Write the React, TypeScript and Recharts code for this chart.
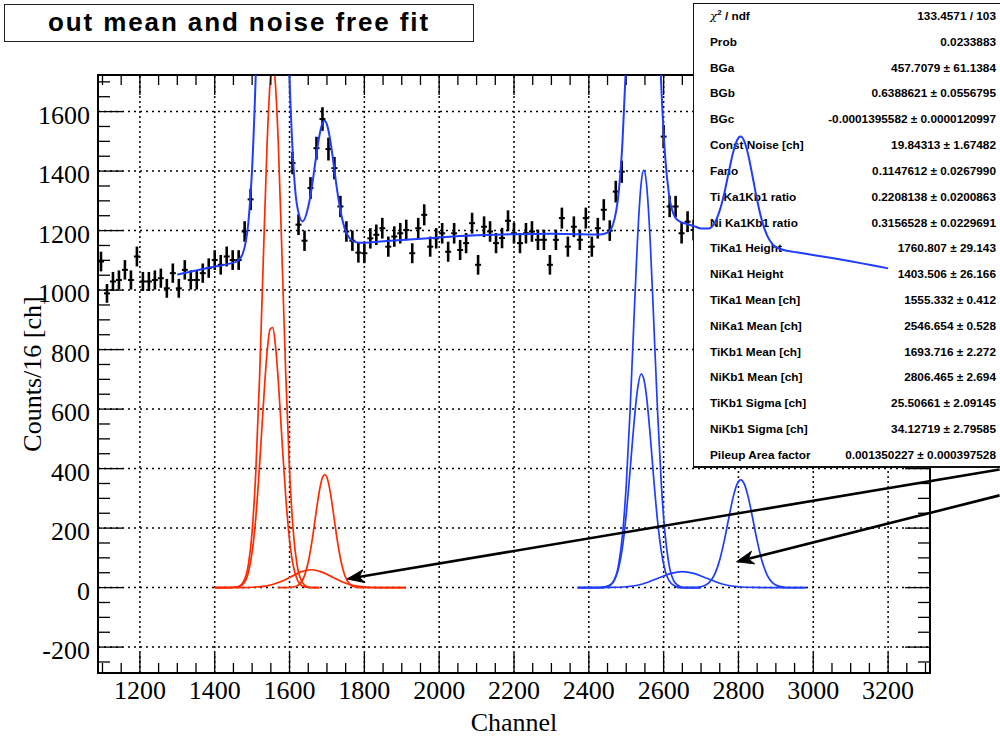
import React from 'react';
import {
  ComposedChart, LineChart, Line, Scatter, ErrorBar, XAxis, YAxis, ReferenceLine,
} from 'recharts';

/* ─────── layout ─────── */
const W = 1000;
const H = 737;
const PLOT = { left: 98, top: 75, right: 930, bottom: 673 };
const MARGIN = { top: PLOT.top, right: W - PLOT.right, bottom: H - PLOT.bottom, left: PLOT.left };
const AXIS_MARGIN = { top: PLOT.top, right: W - PLOT.right, bottom: 0, left: 0 };
const X_DOMAIN: [number, number] = [1088, 3312];
const Y_DOMAIN: [number, number] = [-287, 1723];
const RED = '#ff2a00';
const BLUE = '#1f3dff';
const SERIF = '"Liberation Serif", "Times New Roman", serif';
const SANS = '"Liberation Sans", Arial, Helvetica, sans-serif';

/* ─────── ticks ─────── */
const xMajor = [1200, 1400, 1600, 1800, 2000, 2200, 2400, 2600, 2800, 3000, 3200];
const yMajor = [-200, 0, 200, 400, 600, 800, 1000, 1200, 1400, 1600];
const xMinor = Array.from({ length: 45 }, (_, i) => 1100 + 50 * i);
const yMinor = Array.from({ length: 40 }, (_, i) => -250 + 50 * i);

/* ─────── histogram (bin centres, counts/16 ch) ─────── */
const channels = [
  1096, 1112, 1128, 1144, 1160, 1176, 1192, 1208, 1224, 1240,
  1256, 1272, 1288, 1304, 1320, 1336, 1352, 1368, 1384, 1400,
  1416, 1432, 1448, 1464, 1480, 1496, 1512, 1528, 1544, 1560,
  1576, 1592, 1608, 1624, 1640, 1656, 1672, 1688, 1704, 1720,
  1736, 1752, 1768, 1784, 1800, 1816, 1832, 1848, 1864, 1880,
  1896, 1912, 1928, 1944, 1960, 1976, 1992, 2008, 2024, 2040,
  2056, 2072, 2088, 2104, 2120, 2136, 2152, 2168, 2184, 2200,
  2216, 2232, 2248, 2264, 2280, 2296, 2312, 2328, 2344, 2360,
  2376, 2392, 2408, 2424, 2440, 2456, 2472, 2488, 2504, 2520,
  2536, 2552, 2568, 2584, 2600, 2616, 2632, 2648, 2664, 2680,
];
const counts = [
  1096, 989, 1029, 1034, 1068, 1034, 1113, 1029, 1029, 1034,
  1040, 1006, 1057, 1006, 1068, 1034, 1034, 1057, 1074, 1101,
  1085, 1113, 1101, 1101, 1197, 1305, 1830, 2700, 3520, 3700,
  3020, 2080, 1427, 1220, 1166, 1343, 1477, 1575, 1474, 1410,
  1281, 1197, 1166, 1126, 1124, 1174, 1186, 1208, 1146, 1180,
  1191, 1202, 1124, 1208, 1253, 1146, 1174, 1191, 1129, 1191,
  1135, 1158, 1225, 1085, 1213, 1197, 1158, 1175, 1233, 1191,
  1158, 1191, 1197, 1169, 1169, 1085, 1169, 1242, 1146, 1213,
  1169, 1242, 1146, 1208, 1270, 1200, 1331, 1398, 1880, 2580,
  3180, 3240, 2700, 2000, 1516, 1281, 1281, 1191, 1230, 1202,
];

/* ─────── fit components [channel, counts] ─────── */
const tiKa1 = [
  [1400, 0], [1430, 0], [1460, 2], [1475, 16], [1490, 77], [1500, 188], [1510, 394], [1520, 711],
  [1530, 1109], [1540, 1491], [1548, 1697], [1555, 1760], [1562, 1697], [1570, 1491], [1580, 1109],
  [1590, 711], [1600, 394], [1610, 188], [1620, 77], [1635, 16], [1650, 2], [1665, 0], [1680, 0],
];
const tiKa2 = [
  [1400, 0], [1430, 0], [1460, 2], [1475, 11], [1490, 51], [1500, 119], [1510, 238], [1520, 413],
  [1530, 615], [1540, 791], [1548, 869], [1555, 874], [1562, 818], [1570, 693], [1580, 493],
  [1590, 303], [1600, 160], [1610, 73], [1620, 29], [1635, 5], [1650, 1], [1665, 0], [1680, 0],
];
const tiKb1 = [
  [1568, 0], [1590, 0], [1610, 2], [1625, 10], [1640, 40], [1650, 86], [1660, 156], [1670, 244],
  [1680, 327], [1688, 370], [1694, 380], [1700, 370], [1708, 327], [1718, 244], [1728, 156],
  [1738, 86], [1748, 40], [1760, 13], [1775, 2], [1790, 0], [1820, 0], [1860, 0], [1910, 0],
];
const tiTail = [
  [1400, 0], [1440, 0], [1480, 0], [1510, 2], [1540, 6], [1570, 17], [1600, 34], [1630, 53],
  [1658, 60], [1685, 53], [1715, 35], [1745, 17], [1775, 6], [1805, 2], [1840, 0], [1880, 0], [1910, 0],
];
const niKa1 = [
  [2370, 0], [2400, 0], [2430, 0], [2450, 4], [2465, 19], [2480, 80], [2490, 177], [2500, 343],
  [2510, 586], [2520, 881], [2530, 1167], [2540, 1360], [2547, 1403], [2554, 1360], [2564, 1167],
  [2574, 881], [2584, 586], [2594, 343], [2604, 177], [2614, 80], [2630, 17], [2645, 3], [2660, 0],
  [2690, 0], [2700, 0],
];
const niKa2 = [
  [2370, 0], [2400, 0], [2430, 0], [2450, 4], [2465, 18], [2480, 67], [2490, 136], [2500, 246],
  [2510, 389], [2520, 542], [2530, 665], [2540, 718], [2547, 701], [2554, 645], [2564, 513],
  [2574, 358], [2584, 221], [2594, 120], [2604, 57], [2614, 24], [2630, 5], [2645, 1], [2660, 0],
  [2690, 0], [2700, 0],
];
const niKb1 = [
  [2636, 0], [2660, 0], [2680, 0], [2700, 3], [2720, 15], [2735, 41], [2750, 94], [2762, 157],
  [2774, 233], [2786, 305], [2796, 347], [2806, 362], [2816, 347], [2826, 305], [2838, 233],
  [2850, 157], [2862, 94], [2877, 41], [2892, 15], [2910, 4], [2930, 0], [2955, 0], [2980, 0],
];
const niTail = [
  [2370, 0], [2420, 0], [2460, 0.5], [2500, 3], [2530, 8], [2560, 19], [2590, 34], [2620, 48],
  [2650, 54], [2680, 48], [2710, 34], [2740, 19], [2770, 8], [2800, 3], [2840, 0.5], [2880, 0],
  [2930, 0], [2980, 0],
];
const totalFit = [
  [1300, 1052], [1350, 1066], [1400, 1079], [1440, 1089], [1460, 1097], [1475, 1123], [1490, 1228],
  [1500, 1410], [1510, 1738], [1520, 2233], [1530, 2836], [1540, 3398], [1548, 3686], [1555, 3757],
  [1562, 3642], [1570, 3317], [1580, 2742], [1590, 2162], [1600, 1711], [1610, 1428], [1620, 1285],
  [1635, 1231], [1650, 1280], [1660, 1350], [1670, 1439], [1680, 1520], [1688, 1561], [1694, 1569],
  [1700, 1556], [1708, 1510], [1718, 1422], [1728, 1329], [1738, 1255], [1748, 1205], [1760, 1175],
  [1775, 1162], [1790, 1159], [1820, 1161], [1860, 1165], [1910, 1169], [2000, 1177], [2100, 1184],
  [2200, 1188], [2300, 1189], [2370, 1188], [2400, 1187], [2430, 1187], [2450, 1193], [2465, 1222],
  [2480, 1332], [2490, 1498], [2500, 1775], [2510, 2161], [2520, 2610], [2530, 3021], [2540, 3269],
  [2547, 3298], [2554, 3200], [2564, 2879], [2574, 2442], [2584, 2014], [2594, 1675], [2604, 1450],
  [2614, 1324], [2630, 1246], [2645, 1229], [2660, 1223], [2680, 1216], [2700, 1207], [2720, 1207],
  [2735, 1223], [2750, 1268], [2762, 1325], [2774, 1396], [2786, 1464], [2796, 1503], [2806, 1516],
  [2816, 1499], [2826, 1455], [2838, 1380], [2850, 1302], [2862, 1237], [2877, 1182], [2892, 1153],
  [2910, 1139], [2930, 1132], [2955, 1127], [2980, 1122], [3050, 1108], [3100, 1097], [3150, 1085],
  [3200, 1073],
];

/* ─────── annotation arrows (start -> tip, data coords) ─────── */
const arrows = [
  [{ x: 3498, y: 397 }, { x: 1754, y: 29 }],
  [{ x: 3498, y: 310 }, { x: 2795, y: 87 }],
];

/* ─────── stats box ─────── */
const statLabels = [
  'χ2 / ndf', 'Prob', 'BGa', 'BGb', 'BGc', 'Const Noise [ch]', 'Fano', 'Ti Ka1Kb1 ratio',
  'Ni Ka1Kb1 ratio', 'TiKa1 Height', 'NiKa1 Height', 'TiKa1 Mean [ch]', 'NiKa1 Mean [ch]',
  'TiKb1 Mean [ch]', 'NiKb1 Mean [ch]', 'TiKb1 Sigma [ch]', 'NiKb1 Sigma [ch]', 'Pileup Area factor',
];
const statValues = [
  '133.4571 / 103', '0.0233883', '457.7079 ± 61.1384', '0.6388621 ± 0.0556795',
  '-0.0001395582 ± 0.0000120997', '19.84313 ± 1.67482', '0.1147612 ± 0.0267990',
  '0.2208138 ± 0.0200863', '0.3156528 ± 0.0229691', '1760.807 ± 29.143', '1403.506 ± 26.166',
  '1555.332 ± 0.412', '2546.654 ± 0.528', '1693.716 ± 2.272', '2806.465 ± 2.694',
  '25.50661 ± 2.09145', '34.12719 ± 2.79585', '0.001350227 ± 0.000397528',
];

const pts = (a: number[][]) => a.map(([x, y]) => ({ x, y }));
// Poisson errors on the counts, half a bin horizontally
const histPoints = channels.map((c, i) => ({ x: c, y: counts[i], ey: Math.sqrt(counts[i]), ex: 8 }));

function XTick(props: any) {
  const { x, y, payload } = props;
  const v = payload.value;
  const major = v % 200 === 0;
  const len = major ? 20 : 10;
  return (
    <g>
      <line x1={x} x2={x} y1={y} y2={y - len} stroke="#000" strokeWidth={1.3} />
      <line x1={x} x2={x} y1={PLOT.top} y2={PLOT.top + len} stroke="#000" strokeWidth={1.3} />
      {major && (
        <text x={x} y={y + 26} textAnchor="middle" fontFamily={SERIF} fontSize={26} fill="#000">{v}</text>
      )}
    </g>
  );
}

function YTick(props: any) {
  const { x, y, payload } = props;
  const v = payload.value;
  const major = v % 200 === 0;
  const len = major ? 25 : 12;
  return (
    <g>
      <line x1={x} x2={x + len} y1={y} y2={y} stroke="#000" strokeWidth={1.3} />
      <line x1={PLOT.right} x2={PLOT.right - len} y1={y} y2={y} stroke="#000" strokeWidth={1.3} />
      {major && (
        <text x={x - 8} y={y + 12} textAnchor="end" fontFamily={SERIF} fontSize={26} fill="#000">{v}</text>
      )}
    </g>
  );
}

function ArrowShape(props: any) {
  const { x1, y1, x2, y2 } = props;
  const dx = x2 - x1;
  const dy = y2 - y1;
  const len = Math.hypot(dx, dy) || 1;
  const ux = dx / len;
  const uy = dy / len;
  const nx = -uy;
  const ny = ux;
  const bx = x2 - ux * 17;
  const by = y2 - uy * 17;
  const head = [
    [x2, y2], [bx + nx * 6.5, by + ny * 6.5], [x2 - ux * 12, y2 - uy * 12], [bx - nx * 6.5, by - ny * 6.5],
  ].map((p) => p.join(',')).join(' ');
  return (
    <g>
      <line x1={x1} y1={y1} x2={x2 - ux * 10} y2={y2 - uy * 10} stroke="#000" strokeWidth={2.6} />
      <polygon points={head} fill="#000" stroke="#000" strokeWidth={1} strokeLinejoin="miter" />
    </g>
  );
}

const xLabel = (p: any) => {
  const vb = p.viewBox;
  return (
    <text x={vb.x + vb.width / 2} y={PLOT.bottom + 58} textAnchor="middle" fontFamily={SERIF} fontSize={26} fill="#000">
      Channel
    </text>
  );
};

const yLabel = (p: any) => {
  const vb = p.viewBox;
  const cx = PLOT.left - 57;
  const cy = vb.y + vb.height / 2;
  return (
    <text x={cx} y={cy} transform={`rotate(-90 ${cx} ${cy})`} textAnchor="middle" fontFamily={SERIF} fontSize={26} fill="#000">
      Counts/16 [ch]
    </text>
  );
};

const comp = (data: number[][], color: string, key: string) => (
  <Line
    key={key} data={pts(data)} dataKey="y" type="monotone" stroke={color} strokeWidth={1.7}
    dot={false} activeDot={false} isAnimationActive={false} legendType="none"
  />
);

function StatLabel({ text }: { text: string }) {
  if (text.startsWith('χ2')) {
    return (
      <span>
        <span style={{ fontWeight: 400, fontFamily: '"DejaVu Serif", serif', fontStyle: 'italic' }}>χ</span>
        <span style={{ fontSize: 8, position: 'relative', top: -5 }}>2</span>
        {text.slice(2)}
      </span>
    );
  }
  return <span>{text}</span>;
}

export default function App() {
  const layer: React.CSSProperties = { position: 'absolute', left: 0, top: 0 };
  return (
    <div style={{ position: 'absolute', left: 0, top: 0, width: W, height: H, background: '#fff', overflow: 'hidden' }}>
      {/* base layer: axes, grid, fit components, arrows */}
      <div style={layer}>
        <ComposedChart width={W} height={H} margin={AXIS_MARGIN}>
          <XAxis
            type="number" dataKey="x" domain={X_DOMAIN} allowDataOverflow ticks={xMinor} interval={0}
            height={H - PLOT.bottom} tickSize={0} tickMargin={0} axisLine={false} tickLine={false}
            tick={(p: any) => <XTick {...p} />} label={xLabel}
          />
          <YAxis
            type="number" domain={Y_DOMAIN} allowDataOverflow ticks={yMinor} interval={0}
            width={PLOT.left} tickSize={0} tickMargin={0} axisLine={false} tickLine={false}
            tick={(p: any) => <YTick {...p} />} label={yLabel}
          />
          {xMajor.map((v) => (
            <ReferenceLine key={`gx${v}`} x={v} stroke="#000" strokeWidth={1.5} strokeDasharray="2 3" />
          ))}
          {yMajor.map((v) => (
            <ReferenceLine key={`gy${v}`} y={v} stroke="#000" strokeWidth={1.5} strokeDasharray="2 4" />
          ))}
          {comp(tiKa1, RED, 'tiKa1')}
          {comp(tiKa2, RED, 'tiKa2')}
          {comp(tiKb1, RED, 'tiKb1')}
          {comp(tiTail, RED, 'tiTail')}
          {comp(niKa1, BLUE, 'niKa1')}
          {comp(niKa2, BLUE, 'niKa2')}
          {comp(niKb1, BLUE, 'niKb1')}
          {comp(niTail, BLUE, 'niTail')}
          {arrows.map((seg, i) => (
            <ReferenceLine key={`ar${i}`} segment={seg} ifOverflow="visible" shape={(p: any) => <ArrowShape {...p} />} />
          ))}
        </ComposedChart>
      </div>

      {/* histogram points, cropped to the frame */}
      <div style={{
        position: 'absolute', left: PLOT.left, top: PLOT.top,
        width: PLOT.right - PLOT.left, height: PLOT.bottom - PLOT.top, overflow: 'hidden',
      }}>
        <div style={{ position: 'absolute', left: -PLOT.left, top: -PLOT.top }}>
          <ComposedChart width={W} height={H} margin={MARGIN}>
            <XAxis type="number" dataKey="x" domain={X_DOMAIN} allowDataOverflow hide />
            <YAxis type="number" domain={Y_DOMAIN} allowDataOverflow hide />
            <Scatter data={histPoints} dataKey="y" shape={() => <g />} isAnimationActive={false} legendType="none">
              <ErrorBar dataKey="ey" direction="y" width={0} stroke="#000" strokeWidth={2.6} isAnimationActive={false} />
              <ErrorBar dataKey="ex" direction="x" width={0} stroke="#000" strokeWidth={2} isAnimationActive={false} />
            </Scatter>
          </ComposedChart>
        </div>
      </div>

      {/* frame */}
      <div style={{
        position: 'absolute', left: PLOT.left - 1, top: PLOT.top - 1,
        width: PLOT.right - PLOT.left + 2, height: PLOT.bottom - PLOT.top + 2,
        border: '2px solid #000', boxSizing: 'border-box',
      }} />

      {/* title */}
      <div style={{
        position: 'absolute', left: 4, top: 4, width: 470, height: 38, boxSizing: 'border-box',
        border: '1.5px solid #222', background: '#fff', fontFamily: SANS, fontWeight: 700,
        fontSize: 26, letterSpacing: 1.9, lineHeight: '34px', textAlign: 'center', color: '#000',
      }}>
        out mean and noise free fit
      </div>

      {/* stats box */}
      <div style={{
        position: 'absolute', left: 693, top: 3, width: 330, height: 465, boxSizing: 'border-box',
        border: '1px solid #111', borderBottom: '2px solid #111', background: '#fff',
        fontFamily: SANS, fontWeight: 700, fontSize: 11.8, color: '#000',
      }}>
        {statLabels.map((lab, i) => (
          <div key={lab} style={{ position: 'absolute', left: 0, top: 2 + 25.82 * i, width: 320, height: 20, lineHeight: '20px' }}>
            <span style={{ position: 'absolute', left: 16 }}><StatLabel text={lab} /></span>
            <span style={{ position: 'absolute', right: 18, whiteSpace: 'nowrap' }}>{statValues[i]}</span>
          </div>
        ))}
      </div>

      {/* total fit drawn on top of everything */}
      <div style={layer}>
        <LineChart width={W} height={H} margin={MARGIN}>
          <XAxis type="number" dataKey="x" domain={X_DOMAIN} allowDataOverflow hide />
          <YAxis type="number" domain={Y_DOMAIN} allowDataOverflow hide />
          <Line
            data={pts(totalFit)} dataKey="y" type="monotone" stroke={BLUE} strokeWidth={2}
            dot={false} activeDot={false} isAnimationActive={false}
          />
        </LineChart>
      </div>
    </div>
  );
}
